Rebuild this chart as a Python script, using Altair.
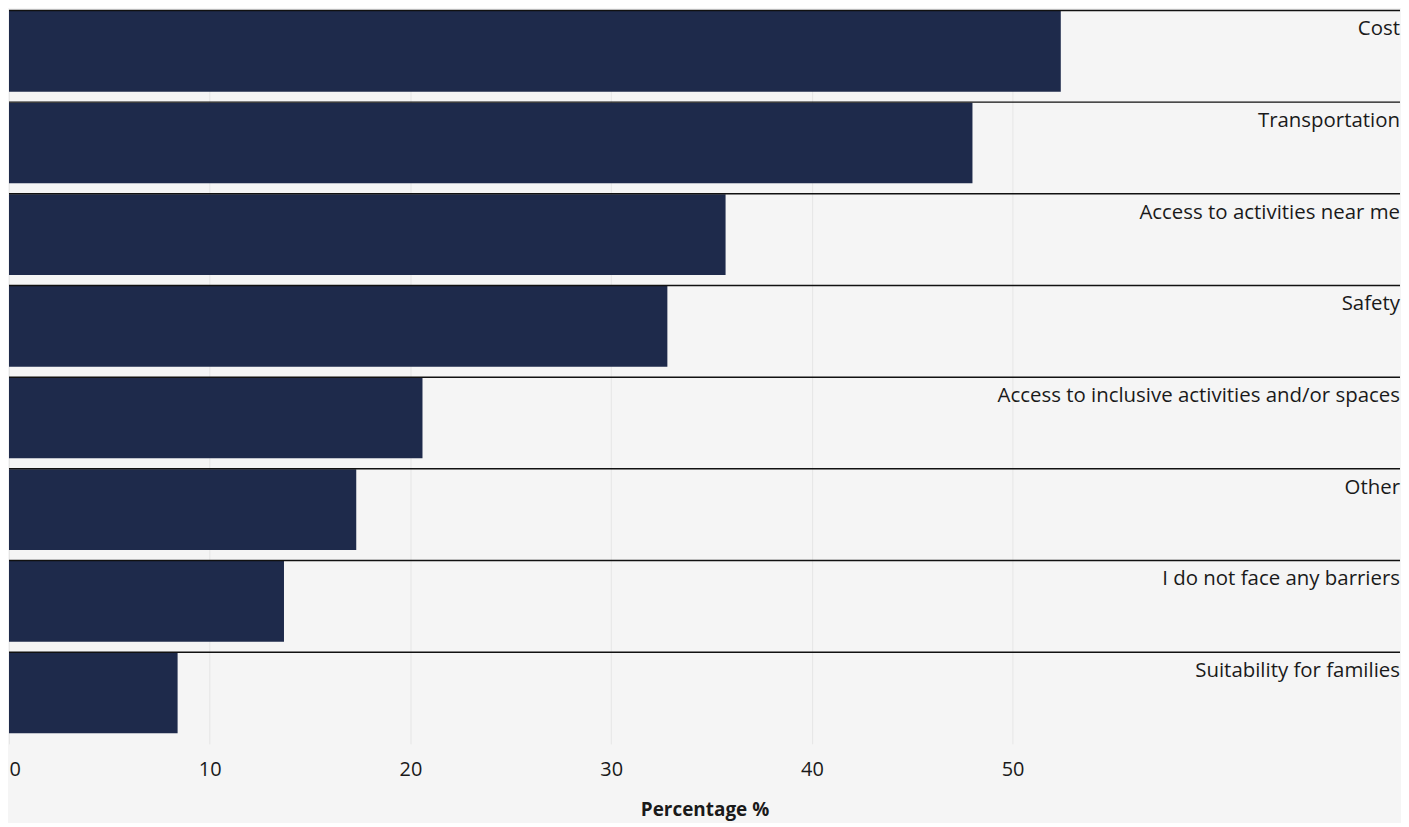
import altair as alt
import pandas as pd

categories = [
    "Cost",
    "Transportation",
    "Access to activities near me",
    "Safety",
    "Access to inclusive activities and/or spaces",
    "Other",
    "I do not face any barriers",
    "Suitability for families",
]
values = [52.4, 48.0, 35.7, 32.8, 20.6, 17.3, 13.7, 8.4]
tick_values = [0, 10, 20, 30, 40, 50]

df = pd.DataFrame({"category": categories, "value": values})

W = 1396
H = 736
FONT = "Open Sans"

y_enc = alt.Y("category:N", sort=categories, axis=None,
              scale=alt.Scale(paddingInner=0, paddingOuter=0))

bars = alt.Chart(df).mark_bar(color="#1e2a4b", height={"band": 0.88}, yOffset=-5).encode(
    x=alt.X("value:Q",
            scale=alt.Scale(domain=[0, 69.3], nice=False),
            axis=alt.Axis(values=tick_values, title="Percentage %", grid=True,
                          gridColor="#e6e6e6", domain=False, ticks=False,
                          labelFontSize=20, labelFont=FONT, labelColor="#1a1a1a",
                          labelPadding=16, titleFont=FONT, titleFontSize=19,
                          titleFontWeight="bold", titleColor="#1a1a1a",
                          titlePadding=21, labelFlush=True)),
    y=y_enc,
)

rules = alt.Chart(df).mark_rule(color="#111111", strokeWidth=1.5).encode(
    y=alt.Y("category:N", sort=categories, axis=None, bandPosition=0),
    x=alt.value(0),
    x2=alt.value(W),
)

labels = alt.Chart(df).mark_text(align="right", baseline="middle", dy=19,
                                 fontSize=20.5, font=FONT, color="#1a1a1a").encode(
    y=alt.Y("category:N", sort=categories, axis=None, bandPosition=0),
    x=alt.value(W),
    text="category:N",
)

chart = alt.layer(bars, rules, labels).properties(
    width=W, height=H, background="#f5f5f5",
    padding={"left": 0, "top": 0, "right": 0, "bottom": 2},
).configure_view(stroke=None, fill="#f5f5f5")

chart.save("out.html", embed_options={"renderer": "svg", "actions": False})
